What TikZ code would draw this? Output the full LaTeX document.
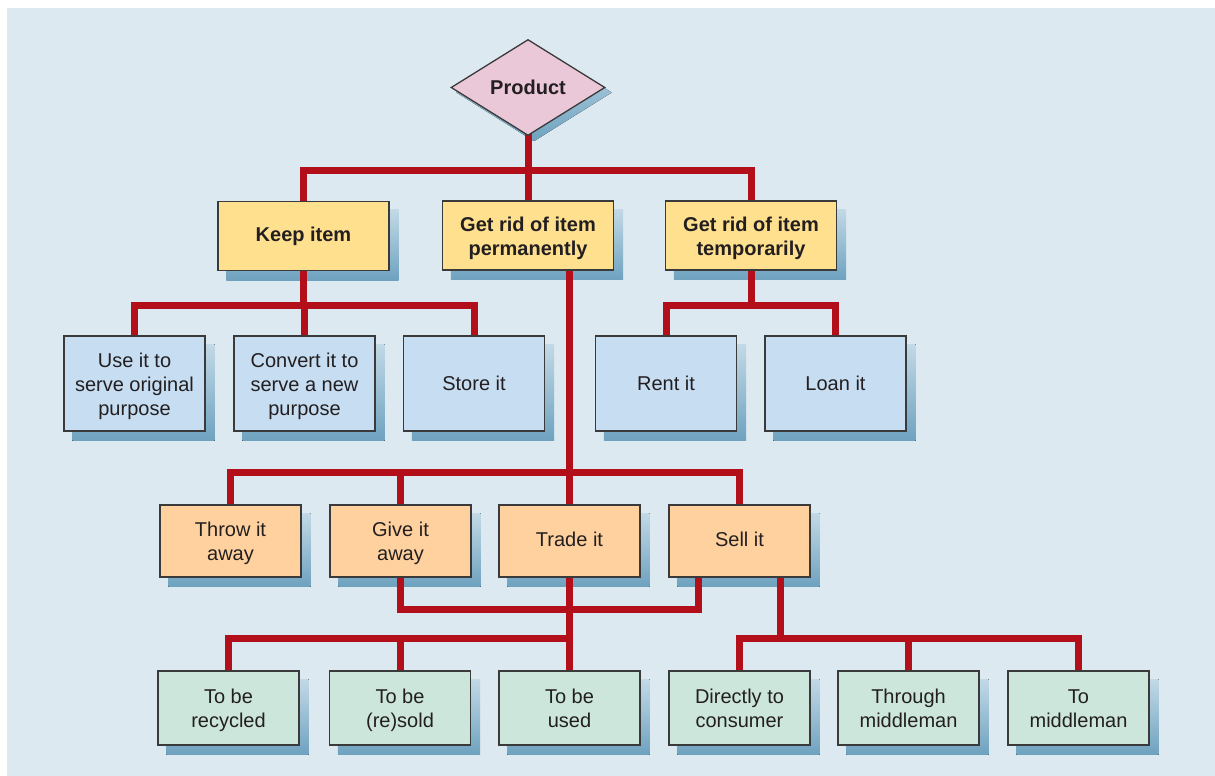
\documentclass[tikz,border=0pt]{standalone}
\usepackage{fontspec}
\setmainfont{Liberation Sans}
\usetikzlibrary{shapes.geometric,calc}
\pgfdeclarelayer{bg}
\pgfdeclarelayer{shadow}
\pgfdeclarelayer{lines}
\pgfsetlayers{bg,shadow,lines,main}
\definecolor{bgc}{HTML}{DCE9F1}
\definecolor{yelc}{HTML}{FFE08F}
\definecolor{bluc}{HTML}{C6DDF2}
\definecolor{orac}{HTML}{FFD19E}
\definecolor{grnc}{HTML}{CCE6DC}
\definecolor{pinkc}{HTML}{EBC8D8}
\definecolor{shtop}{HTML}{C2D9E6}
\definecolor{shbot}{HTML}{6EA2BF}
\definecolor{redc}{HTML}{B20F1A}
\definecolor{bordc}{HTML}{3A3A3A}
\definecolor{txt}{HTML}{231F20}
\newcommand\firstln{\rule{0pt}{19.5pt}}
\newcommand\lastln{\rule[-4.3pt]{0pt}{0pt}}
\tikzset{
  box/.style={draw=bordc, line width=1.3pt, minimum width=141pt, inner sep=0pt,
    align=center, text=txt, font=\fontsize{20}{24}\selectfont},
  yel/.style={box, fill=yelc, minimum width=171pt, minimum height=69pt,
    font=\bfseries\fontsize{20}{24}\selectfont},
  blu/.style={box, fill=bluc, minimum height=95pt},
  ora/.style={box, fill=orac, minimum height=72pt},
  grn/.style={box, fill=grnc, minimum height=74pt},
  conn/.style={draw=redc, line width=7pt, line cap=rect, line join=miter},
  shad/.style={top color=shtop, bottom color=shbot, draw=none},
}
\begin{document}
\begin{tikzpicture}[x=1pt,y=-1pt]
\useasboundingbox (0,0) rectangle (1215,776);
\begin{pgfonlayer}{bg}
  \fill[bgc] (7,8) rectangle (1215,776);
\end{pgfonlayer}

\node[diamond, draw=bordc, line width=1.3pt, fill=pinkc, minimum width=154pt, minimum height=96pt,
  inner sep=0pt, text=txt, font=\bfseries\fontsize{20}{24}\selectfont] (product) at (528,87.5) {Product};

\node[yel] (keep) at (303.5,236) {Keep item};
\node[yel] (perm) at (528,235.5) {\firstln Get rid of item\\permanently\lastln};
\node[yel] (temp) at (751,235.5) {\firstln Get rid of item\\temporarily\lastln};

\node[blu] (use) at (134.5,383.5) {\firstln Use it to\\serve original\\purpose\lastln};
\node[blu] (convert) at (304.5,383.5) {\firstln Convert it to\\serve a new\\purpose\lastln};
\node[blu] (store) at (474,383.5) {Store it};
\node[blu] (rent) at (666,383.5) {Rent it};
\node[blu] (loan) at (835.5,383.5) {Loan it};

\node[ora] (throw) at (230.5,541) {\firstln Throw it\\away\lastln};
\node[ora] (give) at (400.5,541) {\firstln Give it\\away\lastln};
\node[ora] (trade) at (569.5,541) {Trade it\lastln};
\node[ora] (sell) at (739.5,541) {Sell it\lastln};

\node[grn] (recycled) at (228.5,708) {\firstln To be\\recycled\lastln};
\node[grn] (resold) at (400,708) {\firstln To be\\(re)sold\lastln};
\node[grn] (used) at (569.5,708) {\firstln To be\\used\lastln};
\node[grn] (direct) at (739.5,708) {\firstln Directly to\\consumer\lastln};
\node[grn] (through) at (908.5,708) {\firstln Through\\middleman\lastln};
\node[grn] (tomid) at (1078.5,708) {\firstln To\\middleman\lastln};

\begin{pgfonlayer}{shadow}
  \foreach \n in {keep,perm,temp,use,convert,store,rent,loan,throw,give,trade,sell,recycled,resold,used,direct,through,tomid}
    \fill[shad] ([xshift=9pt,yshift=-9pt]\n.south west) rectangle ([xshift=9pt,yshift=-9pt]\n.north east);
  \fill[shad] ([xshift=6pt,yshift=-5pt]product.north) -- ([xshift=6pt,yshift=-5pt]product.east)
    -- ([xshift=6pt,yshift=-5pt]product.south) -- ([xshift=6pt,yshift=-5pt]product.west) -- cycle;
\end{pgfonlayer}

\begin{pgfonlayer}{lines}
  % product to level 1
  \draw[conn] (product.south) -- (perm.north);
  \draw[conn] (keep.north) -- (keep.north |- 0,170) -| (temp.north);
  % keep item
  \draw[conn] (keep.south) -- (keep.south |- 0,305);
  \draw[conn] (use.north) -- (use.north |- 0,305) -| (store.north);
  \draw[conn] (convert.north) -- (convert.north |- 0,305);
  % temporarily
  \draw[conn] (temp.south) -- (temp.south |- 0,305);
  \draw[conn] (rent.north) -- (rent.north |- 0,305) -| (loan.north);
  % permanently
  \draw[conn] (perm.south -| trade.north) -- (trade.north);
  \draw[conn] (throw.north) -- (throw.north |- 0,472) -| (sell.north);
  \draw[conn] (give.north) -- (give.north |- 0,472);
  % give / sell loop
  \coordinate (sellL) at ($(sell.south)+(-41.5,0)$);
  \coordinate (sellR) at ($(sell.south)+(40.5,0)$);
  \draw[conn] (give.south) -- (give.south |- 0,609) -| (sellL);
  \draw[conn] (trade.south) -- (used.north);
  % lower left
  \draw[conn] (recycled.north) -- (recycled.north |- 0,638) -| (trade.south |- 0,638);
  \draw[conn] (resold.north) -- (resold.north |- 0,638);
  % lower right
  \draw[conn] (sellR) -- (sellR |- 0,638);
  \draw[conn] (direct.north) -- (direct.north |- 0,638) -| (tomid.north);
  \draw[conn] (through.north) -- (through.north |- 0,638);
\end{pgfonlayer}
\end{tikzpicture}
\end{document}
